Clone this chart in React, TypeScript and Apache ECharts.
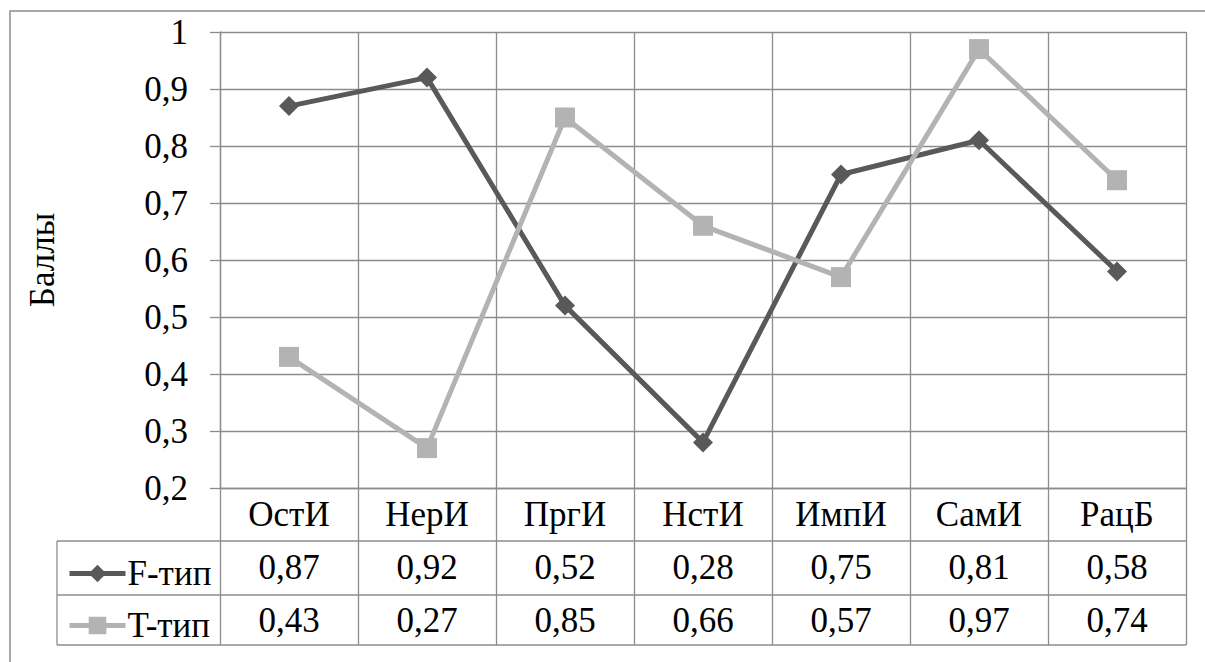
import React, { useEffect, useRef } from "react";
import * as echarts from "echarts";

const categories = ["ОстИ", "НерИ", "ПргИ", "НстИ", "ИмпИ", "СамИ", "РацБ"];
const fValues = [0.87, 0.92, 0.52, 0.28, 0.75, 0.81, 0.58];
const tValues = [0.43, 0.27, 0.85, 0.66, 0.57, 0.97, 0.74];
const seriesNames = ["F-тип", "T-тип"];
const yAxisName = "Баллы";

const FONT = "serif";
const GRID = "#8c8c8c";
const DARK = "#595959";
const LIGHT = "#b3b3b3";
const FS = 35;

const fmt = (v: number) => String(Math.round(v * 100) / 100).replace(".", ",");

export default function App() {
  const ref = useRef<HTMLDivElement>(null);
  useEffect(() => {
    if (!ref.current) return;
    const chart = echarts.init(ref.current, null, { renderer: "svg" });
    const label = { fontFamily: FONT, fontSize: FS, color: "#000" };
    const valueAxis = (data: string[], offset: number, margin: number) => ({
      type: "category",
      gridIndex: 0,
      position: "bottom",
      offset,
      data,
      axisLine: { show: false },
      axisTick: { show: false },
      splitLine: { show: false },
      axisLabel: { ...label, margin, interval: 0 },
    });
    chart.setOption({
      animation: false,
      grid: { left: 220, top: 32, right: 19, bottom: 174 },
      legend: {
        data: seriesNames,
        orient: "vertical",
        left: 62,
        top: 551,
        itemWidth: 56,
        itemHeight: 22,
        itemGap: 17,
        lineStyle: { width: 5 },
        textStyle: { ...label, padding: [0, 0, 0, -3] },
      },
      xAxis: [
        {
          type: "category",
          data: categories,
          boundaryGap: true,
          axisLine: { show: true, lineStyle: { color: GRID, width: 1.3 } },
          axisTick: { show: true, length: 157, lineStyle: { color: GRID, width: 1.3 } },
          splitLine: { show: true, lineStyle: { color: GRID, width: 1.3 } },
          axisLabel: { ...label, margin: 9, interval: 0 },
        },
        valueAxis(fValues.map(fmt), 53, 9),
        valueAxis(tValues.map(fmt), 107, 8),
      ],
      yAxis: {
        type: "value",
        min: 0.2,
        max: 1,
        interval: 0.1,
        name: yAxisName,
        nameLocation: "middle",
        nameRotate: 90,
        nameGap: 160,
        nameTextStyle: { ...label },
        axisLine: { show: true, lineStyle: { color: GRID, width: 1.3 } },
        axisTick: { show: true, length: 10, lineStyle: { color: GRID, width: 1.3 } },
        splitLine: { show: true, lineStyle: { color: GRID, width: 1.3 } },
        axisLabel: { ...label, margin: 32, formatter: (v: number) => fmt(v) },
      },
      series: [
        {
          name: seriesNames[0],
          type: "line",
          data: fValues,
          symbol: "diamond",
          symbolSize: 20,
          lineStyle: { color: DARK, width: 5 },
          itemStyle: { color: DARK },
        },
        {
          name: seriesNames[1],
          type: "line",
          data: tValues,
          symbol: "rect",
          symbolSize: 20,
          lineStyle: { color: LIGHT, width: 5 },
          itemStyle: { color: LIGHT },
        },
      ],
      graphic: [
        {
          type: "rect",
          shape: { x: 10, y: 11, width: 1400, height: 900 },
          style: { fill: "none", stroke: GRID, lineWidth: 1.5 },
          silent: true,
        },
        { type: "line", shape: { x1: 57, y1: 541, x2: 1186, y2: 541 }, style: { stroke: GRID, lineWidth: 1.3 } },
        { type: "line", shape: { x1: 57, y1: 595, x2: 1186, y2: 595 }, style: { stroke: GRID, lineWidth: 1.3 } },
        { type: "line", shape: { x1: 57, y1: 645, x2: 1186, y2: 645 }, style: { stroke: GRID, lineWidth: 1.3 } },
        { type: "line", shape: { x1: 57, y1: 541, x2: 57, y2: 645 }, style: { stroke: GRID, lineWidth: 1.3 } },
      ],
    });
    return () => chart.dispose();
  }, []);
  return (
    <div style={{ position: "absolute", left: 0, top: 0 }}>
      <div ref={ref} style={{ width: 1205, height: 662, background: "#fff" }} />
    </div>
  );
}
